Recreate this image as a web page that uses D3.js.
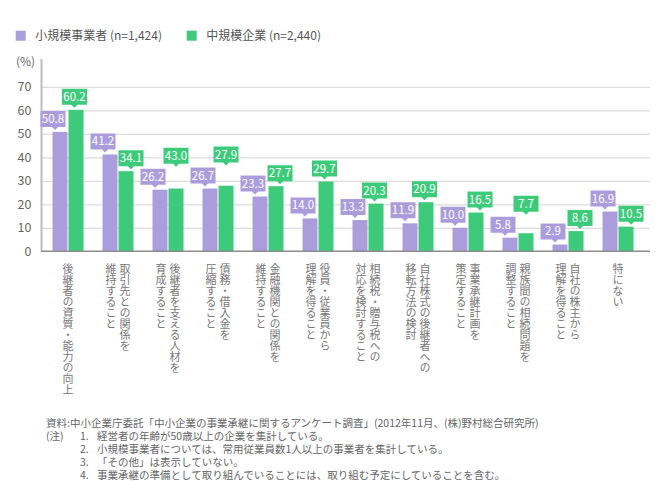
<!DOCTYPE html>
<html>
<head>
<meta charset="utf-8">
<script src="https://cdn.jsdelivr.net/npm/d3@7"></script>
<style>
  body { margin: 0; background: #fff; }
  text { font-family: "Noto Sans CJK JP", "Noto Sans", sans-serif; }
</style>
</head>
<body>
<div id="chart"></div>
<script>

      // categories, each split in the lines it is written in (vertical)
      var categories = [
        ["後継者の資質・能力の向上"],
        ["取引先との関係を", "維持すること"],
        ["後継者を支える人材を", "育成すること"],
        ["債務・借入金を", "圧縮すること"],
        ["金融機関との関係を", "維持すること"],
        ["役員・従業員から", "理解を得ること"],
        ["相続税・贈与税への", "対応を検討すること"],
        ["自社株式の後継者への", "移転方法の検討"],
        ["事業承継計画を", "策定すること"],
        ["親族間の相続問題を", "調整すること"],
        ["自社の株主から", "理解を得ること"],
        ["特にない"]
      ];

      var seriesNames = ["小規模事業者 (n=1,424)", "中規模企業 (n=2,440)"];
      var seriesColors = ["#ab9ddb", "#3dcb7b"];

      var smallValues = [50.8, 41.2, 26.2, 26.7, 23.3, 14.0, 13.3, 11.9, 10.0, 5.8, 2.9, 16.9];
      // bar heights as drawn; the third bar is drawn lower than its printed label
      var midValues = [60.2, 34.1, 26.7, 27.9, 27.7, 29.7, 20.3, 20.9, 16.5, 7.7, 8.6, 10.5];
      var midLabels = ["60.2", "34.1", "43.0", "27.9", "27.7", "29.7", "20.3", "20.9", "16.5", "7.7", "8.6", "10.5"];

      var yTicks = [0, 10, 20, 30, 40, 50, 60, 70];

      var source = "資料:中小企業庁委託「中小企業の事業承継に関するアンケート調査」(2012年11月、(株)野村総合研究所)";
      var notes = [
        ["1.", "経営者の年齢が50歳以上の企業を集計している。"],
        ["2.", "小規模事業者については、常用従業員数1人以上の事業者を集計している。"],
        ["3.", "「その他」は表示していない。"],
        ["4.", "事業承継の準備として取り組んでいることには、取り組む予定にしていることを含む。"]
      ];

      var svg = d3.select("#chart").append("svg")
          .attr("width", 661)
          .attr("height", 501);

      ////// Scales //////
      var xScale = d3.scaleBand()
          .domain(d3.range(categories.length))
          .range([43, 643])
          .paddingInner(0.38)
          .paddingOuter(0.19);

      var xSeries = d3.scaleBand()
          .domain([0, 1])
          .range([0, xScale.bandwidth()])
          .paddingInner(1 / 16);

      var yScale = d3.scaleLinear()
          .domain([0, 70])
          .range([251.3, 86.8]);

      ////// Legend //////
      var legend = svg.append("g").selectAll("g")
          .data(seriesNames)
          .enter().append("g")
          .attr("transform", function(d, i) { return "translate(" + [15.7, 186.7][i] + ",30.7)"; });
      legend.append("rect")
          .attr("width", 10).attr("height", 10)
          .attr("fill", function(d, i) { return seriesColors[i]; });
      legend.append("text")
          .attr("x", 19.5).attr("y", 9.5)
          .attr("font-size", 12)
          .attr("fill", "#555")
          .text(function(d) { return d; });

      ////// Grid + axes //////
      var yAxisGrid = d3.axisLeft(yScale).tickValues(yTicks.slice(1)).tickSize(-(650 - 42)).tickFormat("");
      svg.append("g")
          .attr("transform", "translate(42,0)")
          .call(yAxisGrid)
          .call(function(g) {
            g.select(".domain").remove();
            g.selectAll("line").attr("stroke", "#dcdcdc").attr("stroke-width", 1.2);
          });

      var yAxis = d3.axisLeft(yScale).tickValues(yTicks).tickSize(0).tickPadding(10);
      svg.append("g")
          .attr("transform", "translate(41.5,0)")
          .call(yAxis)
          .call(function(g) {
            g.select(".domain").remove();
            g.selectAll("text")
              .attr("font-size", 12.5)
              .attr("fill", "#666")
              .attr("font-family", "Noto Sans CJK JP");
          });

      svg.append("line")
          .attr("x1", 41.5).attr("x2", 41.5)
          .attr("y1", 59).attr("y2", yScale(0))
          .attr("stroke", "#bdbdbd").attr("stroke-width", 2);

      svg.append("text")
          .attr("x", 16).attr("y", 66)
          .attr("font-size", 12)
          .attr("fill", "#666")
          .text("(%)");

      ////// Bars //////
      var groups = svg.append("g").selectAll("g")
          .data(categories)
          .enter().append("g")
          .attr("transform", function(d, i) { return "translate(" + xScale(i) + ",0)"; });

      groups.selectAll("rect")
          .data(function(d, i) { return [smallValues[i], midValues[i]]; })
          .enter().append("rect")
          .attr("x", function(d, j) { return xSeries(j); })
          .attr("y", function(d) { return yScale(d); })
          .attr("width", xSeries.bandwidth())
          .attr("height", function(d) { return yScale(0) - yScale(d); })
          .attr("fill", function(d, j) { return seriesColors[j]; });

      svg.append("line")
          .attr("x1", 41).attr("x2", 650)
          .attr("y1", yScale(0)).attr("y2", yScale(0))
          .attr("stroke", "#8c8c8c").attr("stroke-width", 1.5);

      ////// Value callouts //////
      var boxW = 25, boxH = 16, gap = 5;

      function callouts(i) {
        var left = xScale(i);
        var cx0 = left + xSeries(0) + xSeries.bandwidth() / 2;
        var cx1 = left + xSeries(1) + xSeries.bandwidth() / 2;
        var b0 = yScale(smallValues[i]) - gap;   // bottom of purple box
        var b1 = yScale(midValues[i]) - gap;     // bottom of green box
        var dx1 = -1.5;
        if (smallValues[i] > midValues[i]) {
          dx1 = 5;
        } else if (b1 > b0 - boxH) {            // boxes would overlap
          if (midValues[i] - smallValues[i] < 2.5) {
            b1 = b0 - boxH - 5;
            dx1 = 0;
          } else {
            dx1 = 4;
          }
        }
        return [
          {cx: cx0 - 7, tip: cx0 - 5, bottom: b0, text: d3.format(".1f")(smallValues[i]), color: seriesColors[0]},
          {cx: cx1 + dx1, tip: cx1 + dx1, bottom: b1, text: midLabels[i], color: seriesColors[1]}
        ];
      }

      var labels = svg.append("g").selectAll("g")
          .data(d3.merge(categories.map(function(d, i) { return callouts(i); })))
          .enter().append("g");

      labels.append("path")
          .attr("d", function(d) {
            return "M" + (d.cx - boxW / 2) + "," + (d.bottom - boxH) +
                   "H" + (d.cx + boxW / 2) + "V" + d.bottom +
                   "H" + (d.tip + 3) + "L" + d.tip + "," + (d.bottom + 3) +
                   "L" + (d.tip - 3) + "," + d.bottom +
                   "H" + (d.cx - boxW / 2) + "Z";
          })
          .attr("fill", function(d) { return d.color; });

      labels.append("text")
          .attr("x", function(d) { return d.cx; })
          .attr("y", function(d) { return d.bottom - boxH / 2 + 4; })
          .attr("text-anchor", "middle")
          .attr("font-size", 11.5)
          .attr("fill", "#fff")
          .text(function(d) { return d.text; });

      ////// Category labels (vertical) //////
      groups.each(function(lines) {
        var g = d3.select(this);
        var cx = xScale.bandwidth() / 2;
        var n = lines.length;
        lines.forEach(function(line, j) {
          g.append("text")
            .attr("x", cx + (n - 1) * 7 - j * 14)
            .attr("y", 263)
            .style("writing-mode", "vertical-rl")
            .attr("font-size", 11)
            .attr("fill", "#777")
            .text(line);
        });
      });

      ////// Source + notes //////
      svg.append("text")
          .attr("x", 46).attr("y", 427)
          .attr("font-size", 10.5).attr("fill", "#666")
          .text(source);

      svg.append("text")
          .attr("x", 46).attr("y", 440)
          .attr("font-size", 10.5).attr("fill", "#666")
          .text("(注)");

      var noteRows = svg.append("g").selectAll("g")
          .data(notes)
          .enter().append("g")
          .attr("transform", function(d, i) { return "translate(0," + (440 + i * 13) + ")"; });

      noteRows.append("text")
          .attr("x", 80).attr("font-size", 10.5).attr("fill", "#666")
          .text(function(d) { return d[0]; });

      noteRows.append("text")
          .attr("x", 97)
          .attr("font-size", 10.5).attr("fill", "#666")
          .text(function(d) { return d[1]; });

</script>
</body>
</html>
